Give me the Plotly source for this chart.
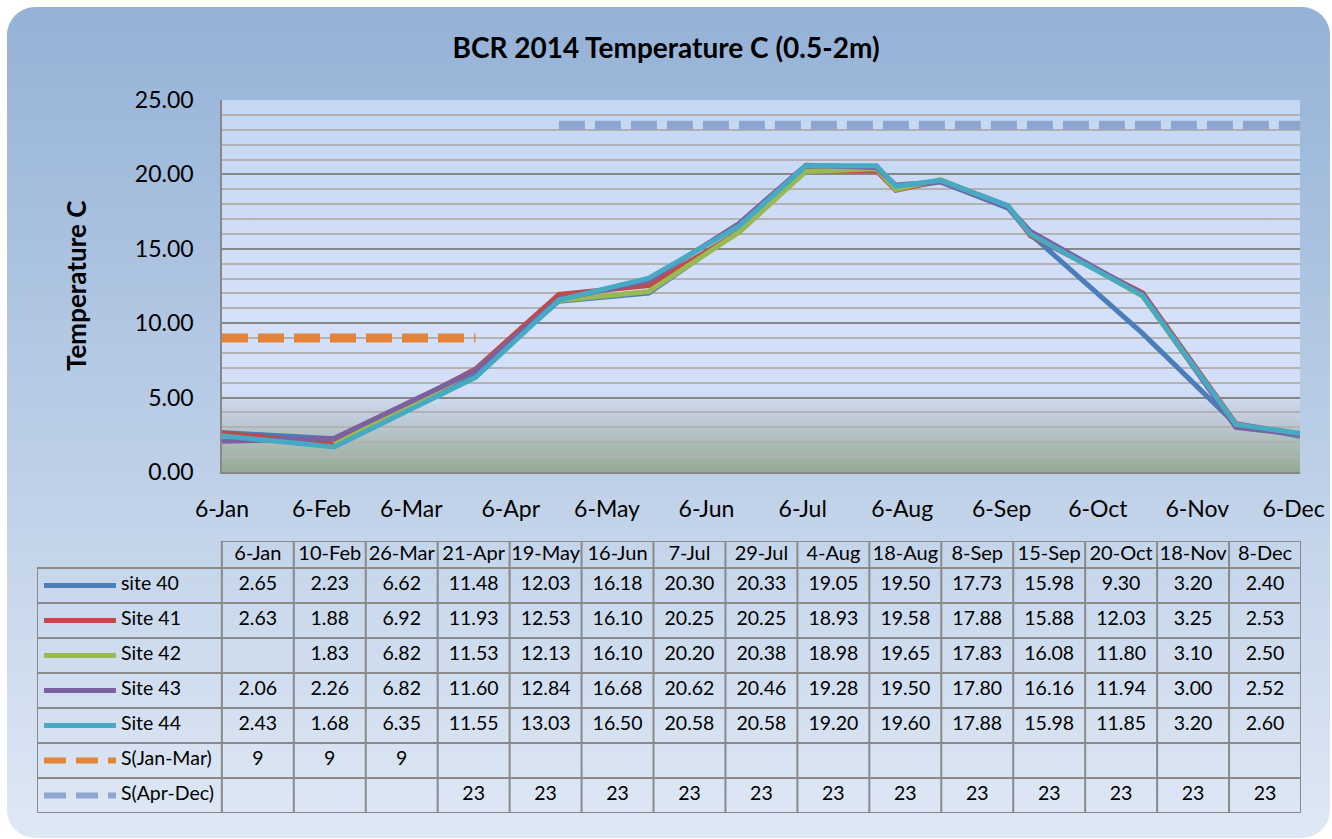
import base64
import plotly.graph_objects as go

W, H = 1332, 839

# ---- data ----
dates = ["2014-01-06", "2014-02-10", "2014-03-26", "2014-04-21", "2014-05-19",
         "2014-06-16", "2014-07-07", "2014-07-29", "2014-08-04", "2014-08-18",
         "2014-09-08", "2014-09-15", "2014-10-20", "2014-11-18", "2014-12-08"]
date_labels = ["6-Jan", "10-Feb", "26-Mar", "21-Apr", "19-May", "16-Jun", "7-Jul", "29-Jul",
               "4-Aug", "18-Aug", "8-Sep", "15-Sep", "20-Oct", "18-Nov", "8-Dec"]
site_40 = [2.65, 2.23, 6.62, 11.48, 12.03, 16.18, 20.30, 20.33, 19.05, 19.50, 17.73, 15.98, 9.30, 3.20, 2.40]
site_41 = [2.63, 1.88, 6.92, 11.93, 12.53, 16.10, 20.25, 20.25, 18.93, 19.58, 17.88, 15.88, 12.03, 3.25, 2.53]
site_42 = [None, 1.83, 6.82, 11.53, 12.13, 16.10, 20.20, 20.38, 18.98, 19.65, 17.83, 16.08, 11.80, 3.10, 2.50]
site_43 = [2.06, 2.26, 6.82, 11.60, 12.84, 16.68, 20.62, 20.46, 19.28, 19.50, 17.80, 16.16, 11.94, 3.00, 2.52]
site_44 = [2.43, 1.68, 6.35, 11.55, 13.03, 16.50, 20.58, 20.58, 19.20, 19.60, 17.88, 15.98, 11.85, 3.20, 2.60]
s_jan_mar = [9, 9, 9, None, None, None, None, None, None, None, None, None, None, None, None]
s_apr_dec = [None, None, None, 23.3, 23.3, 23.3, 23.3, 23.3, 23.3, 23.3, 23.3, 23.3, 23.3, 23.3, 23.3]

month_ticks = ["2014-01-06", "2014-02-06", "2014-03-06", "2014-04-06", "2014-05-06", "2014-06-06",
               "2014-07-06", "2014-08-06", "2014-09-06", "2014-10-06", "2014-11-06", "2014-12-06"]
month_labels = ["6-Jan", "6-Feb", "6-Mar", "6-Apr", "6-May", "6-Jun",
                "6-Jul", "6-Aug", "6-Sep", "6-Oct", "6-Nov", "6-Dec"]

series = [
    ("site 40", site_40, "#4a7ebb", "solid", 5, "{:.2f}"),
    ("Site 41", site_41, "#be4b48", "solid", 5, "{:.2f}"),
    ("Site 42", site_42, "#98b954", "solid", 5, "{:.2f}"),
    ("Site 43", site_43, "#7d60a0", "solid", 5, "{:.2f}"),
    ("Site 44", site_44, "#46aac5", "solid", 5, "{:.2f}"),
    ("S(Jan-Mar)", s_jan_mar, "#e3843a", "26px,10px", 9, "{:.0f}"),
    ("S(Apr-Dec)", s_apr_dec, "#8da5cf", "26px,10px", 9, "{:.0f}"),
]

FONT = "Lato, 'Open Sans', sans-serif"

# ---- pixel geometry ----
PL, PR, PT, PB = 222, 1300, 100, 472          # plot area
TL, TR, TT, TB = 37, 1301, 541, 813           # table
COL_W, ROW_H, HEAD_H = 72.0, 35.0, 27.0
LABEL_W = (PL - TL) / COL_W
NCOL = len(dates)
NROW = len(series)
HEAD_TOP = NROW + HEAD_H / ROW_H

# ---- background (rounded gradient panel + plot area gradient) ----
svg = f'''<svg xmlns="http://www.w3.org/2000/svg" width="{W}" height="{H}" viewBox="0 0 {W} {H}">
<defs>
<linearGradient id="outer" x1="0" y1="0" x2="0" y2="1">
<stop offset="0" stop-color="#94b2d7"/><stop offset="1" stop-color="#dfe8f5"/></linearGradient>
<linearGradient id="plot" x1="0" y1="0" x2="0" y2="1">
<stop offset="0" stop-color="#c5d7f1"/>
<stop offset="0.55" stop-color="#d5e0fa"/>
<stop offset="0.78" stop-color="#d3def7"/>
<stop offset="0.86" stop-color="#bfcbd8"/>
<stop offset="1" stop-color="#94ab93"/>
</linearGradient></defs>
<rect x="7" y="7" width="{W - 9}" height="{H - 8}" rx="28" ry="28" fill="url(#outer)"/>
<rect x="{PL}" y="{PT}" width="{PR - PL}" height="{PB - PT}" fill="url(#plot)"/>
</svg>'''
bg_src = "data:image/svg+xml;base64," + base64.b64encode(svg.encode()).decode()

fig = go.Figure()

# chart lines
for name, vals, color, dash, width, _ in series:
    fig.add_trace(go.Scatter(
        x=dates, y=vals, name=name, mode="lines",
        line=dict(color=color, width=width, dash=dash),
        xaxis="x", yaxis="y", showlegend=False,
    ))

# table: header, values, legend keys
fig.add_trace(go.Scatter(
    x=[i + 0.5 for i in range(NCOL)], y=[NROW + HEAD_H / ROW_H / 2] * NCOL,
    text=date_labels, mode="text", textfont=dict(size=20, color="black", family=FONT),
    xaxis="x2", yaxis="y2", showlegend=False, hoverinfo="skip", cliponaxis=False,
))
for r, (name, vals, color, dash, width, fmt) in enumerate(series):
    yrow = NROW - r - 0.5
    fig.add_trace(go.Scatter(
        x=[i + 0.5 for i in range(NCOL)], y=[yrow] * NCOL,
        text=["" if v is None else fmt.format(v) for v in vals],
        mode="text", textfont=dict(size=19.5, color="black", family=FONT),
        xaxis="x2", yaxis="y2", showlegend=False, hoverinfo="skip", cliponaxis=False,
    ))
    fig.add_trace(go.Scatter(
        x=[-LABEL_W + 7 / COL_W, -LABEL_W + 79 / COL_W], y=[yrow, yrow], mode="lines",
        line=dict(color=color, width=6 if width > 5 else width,
                  dash="22px,10px" if width > 5 else dash),
        xaxis="x2", yaxis="y2", showlegend=False, hoverinfo="skip",
    ))
    fig.add_trace(go.Scatter(
        x=[-LABEL_W + 84 / COL_W], y=[yrow], text=[name], mode="text",
        textposition="middle right", textfont=dict(size=19.5, color="black", family=FONT),
        xaxis="x2", yaxis="y2", showlegend=False, hoverinfo="skip", cliponaxis=False,
    ))

grid = dict(type="line", xref="x2", yref="y2", line=dict(color="#8a8a8a", width=2), layer="above")
shapes = []
for c in range(NCOL + 1):
    shapes.append(dict(grid, x0=c, x1=c, y0=0, y1=HEAD_TOP))
shapes.append(dict(grid, x0=-LABEL_W, x1=-LABEL_W, y0=0, y1=NROW))
for r in range(NROW + 1):
    shapes.append(dict(grid, x0=-LABEL_W, x1=NCOL, y0=r, y1=r))
shapes.append(dict(grid, x0=0, x1=NCOL, y0=HEAD_TOP, y1=HEAD_TOP))

fig.update_layout(
    width=W, height=H,
    margin=dict(l=0, r=0, t=0, b=0, autoexpand=False),
    paper_bgcolor="white",
    plot_bgcolor="rgba(0,0,0,0)",
    font=dict(family=FONT, color="black"),
    title=dict(text="<b>BCR 2014 Temperature C (0.5-2m)</b>", x=0.5, xanchor="center",
               y=1 - 48 / H, yanchor="middle", font=dict(size=28, family=FONT, color="black")),
    images=[dict(source=bg_src, xref="paper", yref="paper", x=0, y=1, sizex=1, sizey=1,
                 xanchor="left", yanchor="top", sizing="stretch", layer="below")],
    xaxis=dict(
        domain=[PL / W, PR / W], type="date", range=[dates[0], dates[-1]],
        tickvals=month_ticks, ticktext=month_labels, tickfont=dict(size=23),
        showgrid=False, showline=True, linecolor="#888888", linewidth=1.5,
        ticks="", ticklabelstandoff=16, zeroline=False,
    ),
    yaxis=dict(
        domain=[1 - PB / H, 1 - PT / H], range=[0, 25], dtick=5, tickformat=".2f",
        tickfont=dict(size=23), showgrid=True, gridcolor="#878787", gridwidth=1.5,
        minor=dict(dtick=1, showgrid=True, gridcolor="#b2b2b2", gridwidth=1.5),
        showline=True, linecolor="#888888", linewidth=1.5, ticks="",
        ticklabelstandoff=22, zeroline=False,
    ),
    xaxis2=dict(domain=[TL / W, TR / W], range=[-LABEL_W, NCOL], visible=False, fixedrange=True),
    yaxis2=dict(domain=[1 - TB / H, 1 - TT / H], range=[0, HEAD_TOP], visible=False, fixedrange=True),
    shapes=shapes,
    annotations=[dict(text="<b>Temperature C</b>", textangle=-90, x=58 / W, y=1 - 286 / H,
                      xref="paper", yref="paper", showarrow=False,
                      font=dict(size=26, family=FONT, color="black"))],
)

fig.write_html("out.html", config={"displayModeBar": False},
               post_script="document.body.style.margin='0';")
